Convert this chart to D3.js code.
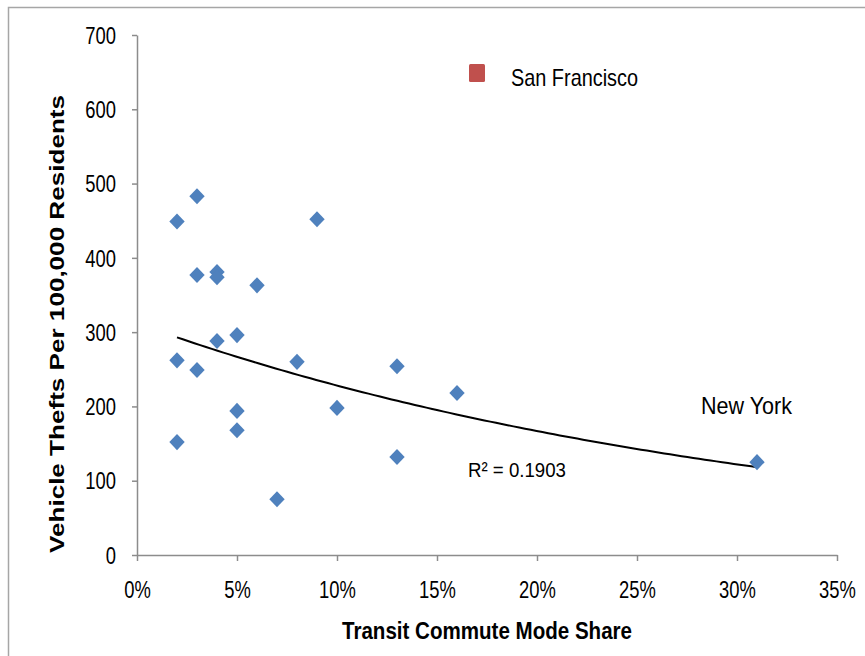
<!DOCTYPE html>
<html>
<head>
<meta charset="utf-8">
<script src="https://cdn.jsdelivr.net/npm/d3@7"></script>
<style>
  html, body { margin: 0; padding: 0; background: #fff; }
  svg { display: block; }
</style>
</head>
<body>
<svg id="chart" width="865" height="656"></svg>
<script>
// ---- Data ----
const transitShare = [2, 3, 2, 2, 3, 3, 4, 4, 4, 5, 5, 5, 6, 7, 8, 9, 10, 13, 13, 16, 31];
const vehicleThefts = [449, 483, 262, 152, 377, 249, 381, 374, 288, 296, 194, 168, 363, 75, 260, 452, 198, 254, 132, 218, 125];
const xTicks = [0, 5, 10, 15, 20, 25, 30, 35];
const yTicks = [0, 100, 200, 300, 400, 500, 600, 700];
const legendLabel = "San Francisco";
const pointLabel = "New York";
const rSquaredLabel = "R\u00B2 = 0.1903";
const xTitle = "Transit Commute Mode Share";
const yTitle = "Vehicle Thefts Per 100,000  Residents";

const sans = "'Liberation Sans', Arial, sans-serif";

// squeeze text horizontally to mimic a condensed face
function condense(sel, factor) {
  sel.each(function () {
    const w = this.getComputedTextLength();
    d3.select(this).attr("textLength", w * factor).attr("lengthAdjust", "spacingAndGlyphs");
  });
}

const svg = d3.select("#chart");

// chart frame
svg.append("rect")
  .attr("x", 8.5).attr("y", 7.5)
  .attr("width", 900).attr("height", 700)
  .attr("fill", "none").attr("stroke", "#a6a6a6").attr("stroke-width", 1.5);

const x = d3.scaleLinear().domain([0, 35]).range([137, 837]);
const y = d3.scaleLinear().domain([0, 700]).range([555, 35]);

// axes
const xAxis = svg.append("g")
  .attr("transform", `translate(0,${y(0)})`)
  .call(d3.axisBottom(x).tickValues(xTicks).tickFormat(d => d + "%").tickSize(6).tickSizeOuter(0));
const yAxis = svg.append("g")
  .attr("transform", `translate(${x(0)},0)`)
  .call(d3.axisLeft(y).tickValues(yTicks).tickSize(5).tickSizeOuter(0));

[xAxis, yAxis].forEach(g => {
  g.select(".domain").attr("stroke", "#8c8c8c").attr("stroke-width", 1.5);
  g.selectAll(".tick line").attr("stroke", "#8c8c8c").attr("stroke-width", 1.5);
  g.selectAll(".tick text")
    .attr("fill", "#000")
    .style("font-family", sans)
    .style("font-size", "23px");
});
xAxis.selectAll(".tick text").attr("y", 43).attr("dy", "0");
yAxis.selectAll(".tick text").attr("x", -21).attr("dy", "0.36em");
condense(xAxis.selectAll(".tick text"), 0.8);
condense(yAxis.selectAll(".tick text"), 0.8);

// trendline: exponential least-squares fit (on ln y), over the data range
const n = transitShare.length;
const lny = vehicleThefts.map(v => Math.log(v));
const mx = d3.mean(transitShare), my = d3.mean(lny);
let sxy = 0, sxx = 0;
for (let i = 0; i < n; i++) {
  sxy += (transitShare[i] - mx) * (lny[i] - my);
  sxx += (transitShare[i] - mx) ** 2;
}
const b = sxy / sxx;
const a = Math.exp(my - b * mx);
const xMin = d3.min(transitShare), xMax = d3.max(transitShare);
const trendPts = d3.range(0, 101).map(i => {
  const xv = xMin + (xMax - xMin) * i / 100;
  return [xv, a * Math.exp(b * xv)];
});
svg.append("path")
  .datum(trendPts)
  .attr("fill", "none")
  .attr("stroke", "#000")
  .attr("stroke-width", 2)
  .attr("d", d3.line().x(d => x(d[0])).y(d => y(d[1])));

// diamond markers
const diamond = d3.symbol().type(d3.symbolDiamond2).size(150);
svg.append("g").selectAll("path")
  .data(transitShare.map((v, i) => [v, vehicleThefts[i]]))
  .join("path")
  .attr("transform", d => `translate(${x(d[0])},${y(d[1])}) scale(1,1.05)`)
  .attr("d", diamond)
  .attr("fill", "#4f81bd");

// legend (San Francisco)
svg.append("rect")
  .attr("x", 469).attr("y", 64).attr("width", 16).attr("height", 18)
  .attr("rx", 1.5)
  .attr("fill", "#c0504d");
svg.append("text")
  .attr("x", 511).attr("y", 86)
  .style("font-family", sans).style("font-size", "24px")
  .attr("fill", "#000")
  .attr("textLength", 127).attr("lengthAdjust", "spacingAndGlyphs")
  .text(legendLabel);

// New York label
svg.append("text")
  .attr("x", 701).attr("y", 414)
  .style("font-family", sans).style("font-size", "24px")
  .attr("fill", "#000")
  .attr("textLength", 91).attr("lengthAdjust", "spacingAndGlyphs")
  .text(pointLabel);

// R squared label
svg.append("text")
  .attr("x", 468).attr("y", 477)
  .style("font-family", sans).style("font-size", "20px")
  .attr("fill", "#000")
  .attr("textLength", 98).attr("lengthAdjust", "spacingAndGlyphs")
  .text(rSquaredLabel);

// axis titles
svg.append("text")
  .attr("x", 342).attr("y", 639)
  .attr("textLength", 290).attr("lengthAdjust", "spacingAndGlyphs")
  .style("font-family", sans).style("font-size", "24px").style("font-weight", "bold")
  .attr("fill", "#000")
  .text(xTitle);

svg.append("text")
  .attr("transform", "translate(64,553) rotate(-90)")
  .attr("x", 0).attr("y", 0)
  .attr("textLength", 458).attr("lengthAdjust", "spacingAndGlyphs")
  .style("font-family", "'Liberation Sans', 'DejaVu Sans', sans-serif")
  .style("font-size", "21px").style("font-weight", "bold")
  .attr("fill", "#000")
  .text(yTitle);
</script>
</body>
</html>
